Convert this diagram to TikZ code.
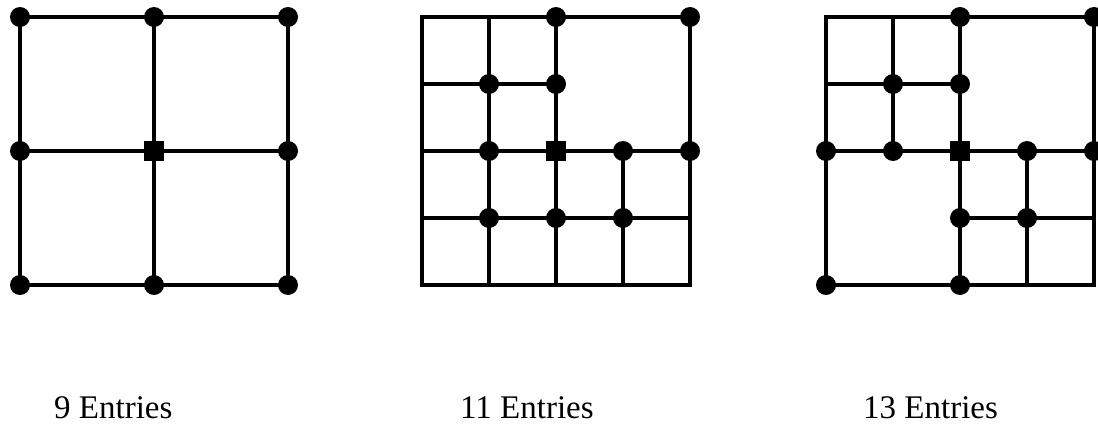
\documentclass[tikz,border=0pt]{standalone}
\usepackage{fontspec}
\setmainfont{Liberation Serif}
\begin{document}
\begin{tikzpicture}[
    gridline/.style={line width=3.4pt},
    entry/.style={circle, fill=black, inner sep=0pt, minimum size=20pt},
    pivot/.style={rectangle, fill=black, inner sep=0pt, minimum size=20pt},
    caption/.style={anchor=base west, inner sep=0pt, font=\fontsize{33}{40}\selectfont}]
  \useasboundingbox (0pt,0pt) rectangle (1098pt,-428pt);
  % 9 entries: plain 2x2 cells
  \begin{scope}[shift={(20pt,-17pt)}, x=67pt, y=-67pt]
    \draw[gridline] (0,0) rectangle (4,4);
    \draw[gridline] (2,0) -- (2,4);
    \draw[gridline] (0,2) -- (4,2);
    \foreach \x/\y in {0/0, 2/0, 4/0, 0/2, 4/2, 0/4, 2/4, 4/4}
      \node[entry] (a-\x-\y) at (\x,\y) {};
    \node[pivot] (a-mid) at (2,2) {};
  \end{scope}
  % 11 entries: three quadrants refined
  \begin{scope}[shift={(422pt,-17pt)}, x=67pt, y=-67pt]
    \draw[gridline] (0,0) rectangle (4,4);
    \draw[gridline] (1,0) -- (1,4);
    \draw[gridline] (2,0) -- (2,4);
    \draw[gridline] (3,2) -- (3,4);
    \draw[gridline] (0,1) -- (2,1);
    \draw[gridline] (0,2) -- (4,2);
    \draw[gridline] (0,3) -- (4,3);
    \foreach \x/\y in {2/0, 4/0, 1/1, 2/1, 1/2, 3/2, 4/2, 1/3, 2/3, 3/3}
      \node[entry] (b-\x-\y) at (\x,\y) {};
    \node[pivot] (b-mid) at (2,2) {};
  \end{scope}
  % 13 entries: two opposite quadrants refined
  \begin{scope}[shift={(826pt,-17pt)}, x=67pt, y=-67pt]
    \draw[gridline] (0,0) rectangle (4,4);
    \draw[gridline] (2,0) -- (2,4);
    \draw[gridline] (0,2) -- (4,2);
    \draw[gridline] (1,0) -- (1,2);
    \draw[gridline] (0,1) -- (2,1);
    \draw[gridline] (3,2) -- (3,4);
    \draw[gridline] (2,3) -- (4,3);
    \foreach \x/\y in {2/0, 4/0, 1/1, 2/1, 0/2, 1/2, 3/2, 4/2, 2/3, 3/3, 0/4, 2/4}
      \node[entry] (c-\x-\y) at (\x,\y) {};
    \node[pivot] (c-mid) at (2,2) {};
  \end{scope}
  % Captions
  \node[caption] (cap-a) at (54pt,-418pt) {9 Entries};
  \node[caption] (cap-b) at (460pt,-418pt) {11 Entries};
  \node[caption] (cap-c) at (863pt,-418pt) {13 Entries};
\end{tikzpicture}
\end{document}
